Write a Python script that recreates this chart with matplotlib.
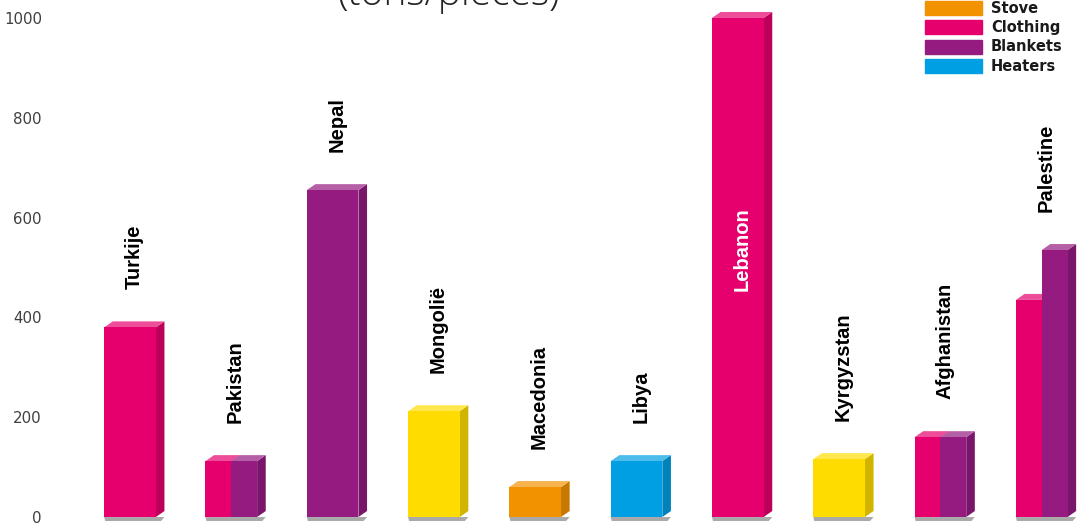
import matplotlib
matplotlib.use("Agg")
import matplotlib.pyplot as plt
from matplotlib.patches import Polygon, Patch
from matplotlib.colors import to_rgb
import numpy as np

countries = ["Turkije", "Pakistan", "Nepal", "Mongolië", "Macedonia",
             "Libya", "Lebanon", "Kyrgyzstan", "Afghanistan", "Palestine"]

# values per aid type (tons / pieces), 0 = not delivered
food = [0, 0, 0, 212, 0, 0, 0, 116, 0, 0]
stove = [0, 0, 0, 0, 60, 0, 0, 0, 0, 0]
clothing = [380, 112, 0, 0, 0, 0, 1000, 0, 160, 435]
blankets = [0, 112, 655, 0, 0, 0, 0, 0, 160, 535]
heaters = [0, 0, 0, 0, 0, 112, 0, 0, 0, 0]

series_names = ["Food", "Stove", "Clothing", "Blankets", "Heaters"]
legend_names = ["Stove", "Clothing", "Blankets", "Heaters"]
yticks = [0, 200, 400, 600, 800, 1000]

COLORS = {
    "Food": "#FFDC00",
    "Stove": "#F39200",
    "Clothing": "#E5006D",
    "Blankets": "#951B81",
    "Heaters": "#009FE3",
}


def shade(color, f):
    r, g, b = to_rgb(color)
    if f > 1:
        k = f - 1
        return (r + (1 - r) * k, g + (1 - g) * k, b + (1 - b) * k)
    return (r * f, g * f, b * f)


fig = plt.figure(figsize=(10.81, 5.27), dpi=100)
ax = fig.add_axes([60 / 1081, 0, 1 - 60 / 1081, 1])
ax.set_xlim(-0.691, 9.388)
ax.set_ylim(-20, 1036)
for s in ax.spines.values():
    s.set_visible(False)
ax.set_xticks([])
ax.set_yticks(yticks)
ax.tick_params(axis="y", length=0, pad=13, labelsize=10.8, labelcolor="#404040")

data = dict(zip(series_names, [food, stove, clothing, blankets, heaters]))

group_w = 0.51
dx = 0.085   # depth to the right (data units)
dy = 12      # depth upwards (data units)

for i, country in enumerate(countries):
    present = [(n, data[n][i]) for n in series_names if data[n][i] > 0]
    w = group_w / len(present)
    left0 = i - group_w / 2
    tops = []
    # shadow under the whole group
    gx0, gx1 = left0, left0 + group_w
    ax.add_patch(Polygon([(gx0 + 0.01, -8), (gx1 + dx * 0.6, -8), (gx1 + dx, 0), (gx0, 0)],
                         closed=True, color="#555555", alpha=0.5, lw=0, zorder=1))
    for j, (name, val) in enumerate(present):
        c = COLORS[name]
        x0 = left0 + j * w
        x1 = x0 + w
        # side face
        ax.add_patch(Polygon([(x1, 0), (x1 + dx, dy), (x1 + dx, val + dy), (x1, val)],
                             closed=True, color=shade(c, 0.82), lw=0, zorder=2 + j))
        # front face
        ax.bar(x0, val, width=w, align="edge", color=c, zorder=3 + j, linewidth=0)
        # top face
        ax.add_patch(Polygon([(x0, val), (x1, val), (x1 + dx, val + dy), (x0 + dx, val + dy)],
                             closed=True, color=shade(c, 1.3), lw=0, zorder=2 + j))
        tops.append(val)
    xc = i + dx / 2
    top = max(tops)
    if top > 900:
        ax.text(xc, top - 380, country, rotation=90, ha="center", va="top",
                fontsize=14.5, fontweight="bold", color="white",
                family="Liberation Sans", zorder=10)
    else:
        ax.text(xc, top + 76, country, rotation=90, ha="center", va="bottom",
                fontsize=14.5, fontweight="bold", color="black",
                family="Liberation Sans", zorder=10)

fig.text(449 / 1081, 1 - 5 / 527, "(tons/pieces)", ha="center", va="baseline",
         fontsize=28, fontweight="light", color="#222222", family="Open Sans")

handles = [Patch(color=COLORS[n]) for n in legend_names]
leg = fig.legend(handles, legend_names, loc="upper left",
                 bbox_to_anchor=(918 / 1081, 1 + 6 / 527),
                 frameon=False, handlelength=3.9, handleheight=1.1,
                 handletextpad=0.6, labelspacing=0.28, borderpad=0.0,
                 prop={"size": 10.5, "weight": "bold", "family": "DejaVu Sans"})
for t in leg.get_texts():
    t.set_color("#1a1a1a")

fig.savefig("out.png", dpi=100)
